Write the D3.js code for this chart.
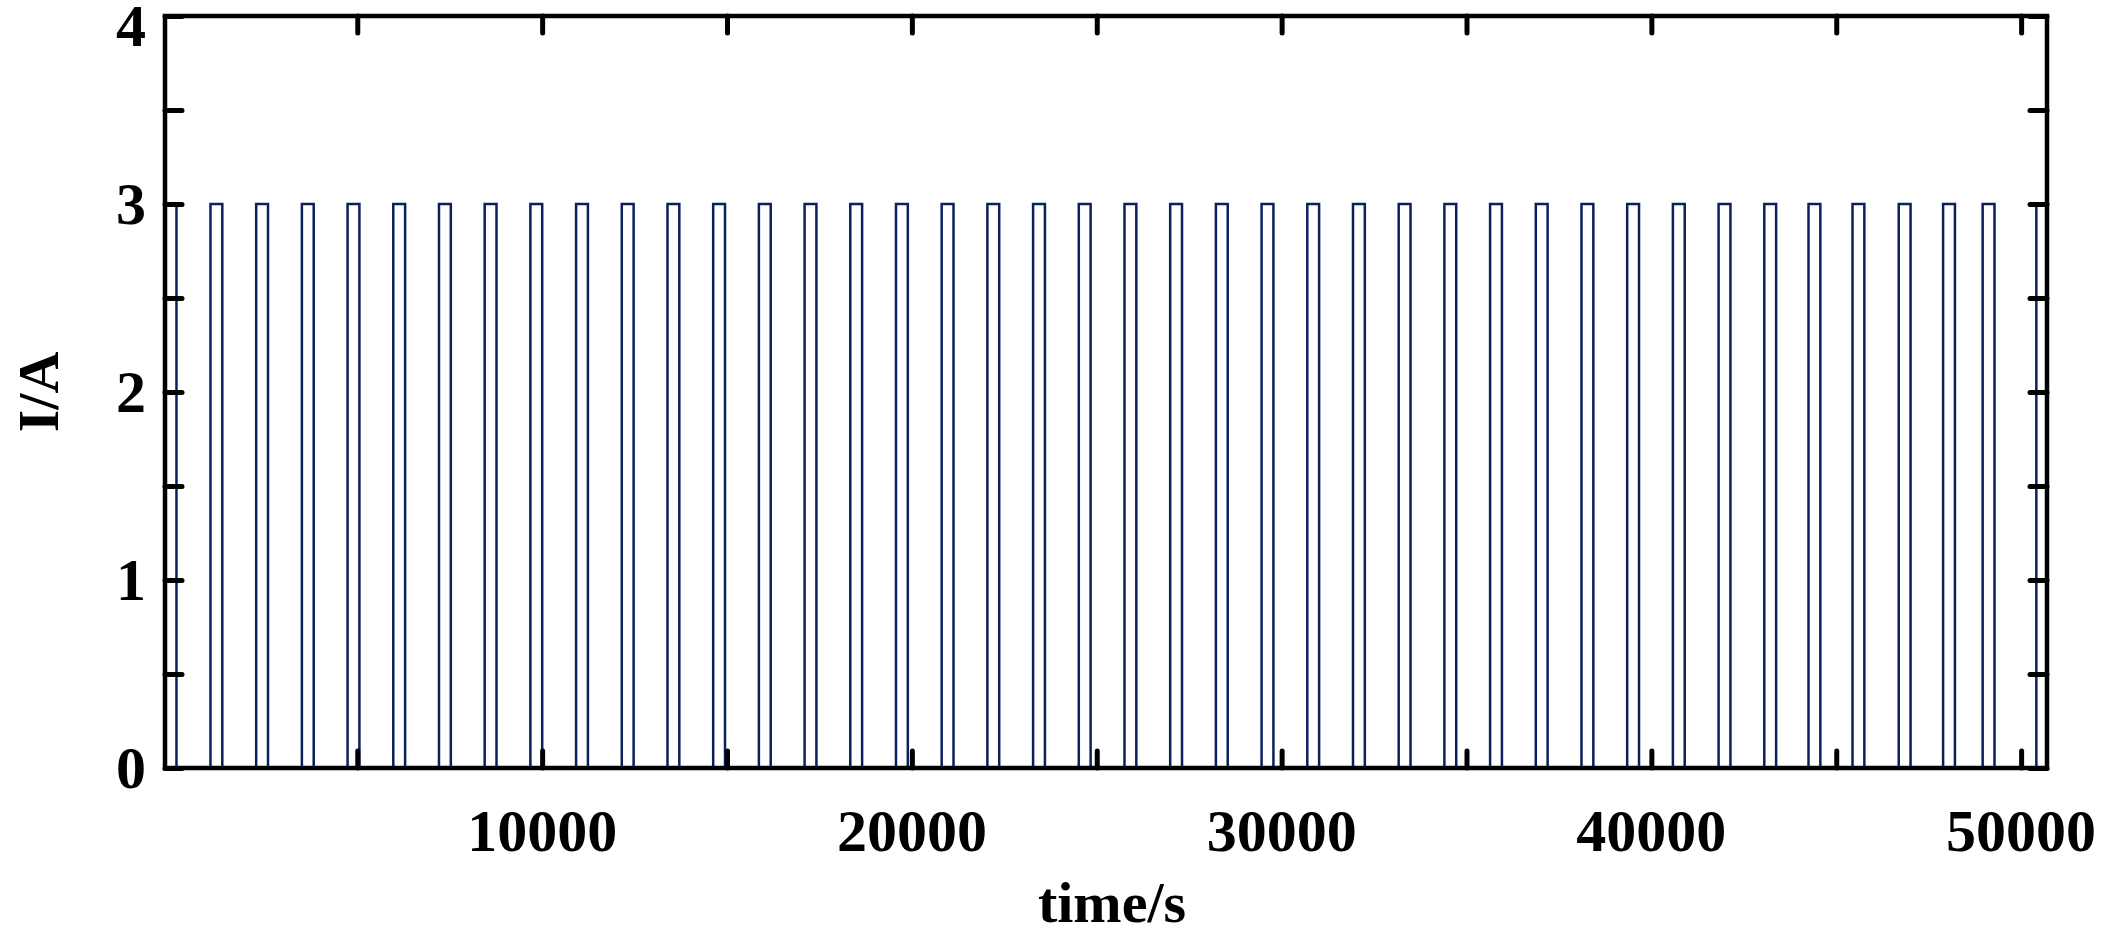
<!DOCTYPE html>
<html><head><meta charset="utf-8">
<script src="https://cdn.jsdelivr.net/npm/d3@7"></script>
<style>body{margin:0;background:#fff}text{font-family:"Liberation Serif",serif;font-weight:bold}</style>
</head><body>
<svg id="canvas" width="2106" height="941"></svg>
<script>
(function () {
    // pulse rising edges (s), each pulse lasts pulseWidth at pulseLevel A
    var riseTimes = [-210, 1030, 2266, 3502, 4738, 5974, 7210, 8446, 9682, 10918, 12154, 13390,
        14626, 15862, 17098, 18334, 19570, 20806, 22042, 23278, 24514, 25750, 26986,
        28222, 29458, 30694, 31930, 33166, 34402, 35638, 36874, 38110, 39346, 40582,
        41818, 43054, 44250, 45440, 46690, 47890, 48960, 50412];
    var pulseWidth = 320, pulseLevel = 3;
    var xTicks = [10000, 20000, 30000, 40000, 50000];
    var yTicks = [0, 1, 2, 3, 4];

    var left = 165, right = 2047, top = 16, bottom = 768;
    var xMin = -200, xMax = 50700;

    var svg = d3.select("#canvas");
    var x = d3.scaleLinear().domain([xMin, xMax]).range([left, right]);
    var y = d3.scaleLinear().domain([0, 4]).range([bottom, top]);

    // build step points
    var pts = [];
    riseTimes.forEach(function (t, i) {
        var t0 = Math.max(t, xMin), t1 = Math.min(t + pulseWidth, xMax);
        if (i === 0) pts.push([t0, pulseLevel]); else { pts.push([t0, 0]); pts.push([t0, pulseLevel]); }
        if (t + pulseWidth < xMax) { pts.push([t1, pulseLevel]); pts.push([t1, 0]); }
        else pts.push([xMax, pulseLevel]);
    });

    svg.append("path")
        .attr("d", d3.line().x(function (d) { return x(d[0]); }).y(function (d) { return y(d[1]); })(pts))
        .attr("fill", "none").attr("stroke", "#0a215e").attr("stroke-width", 2.5);

    var tl = 17;
    var yMinor = d3.range(0, 4.01, 0.5);
    var xMinor = d3.range(5000, 50001, 5000);
    // ticks on all four sides, pointing inward
    svg.append("g").attr("transform", "translate(" + left + ",0)")
        .call(d3.axisLeft(y).tickValues(yMinor).tickSize(-tl).tickFormat(""))
        .call(function (g) { g.select(".domain").remove(); });
    svg.append("g").attr("transform", "translate(" + right + ",0)")
        .call(d3.axisRight(y).tickValues(yMinor).tickSize(-tl).tickFormat(""))
        .call(function (g) { g.select(".domain").remove(); });
    svg.append("g").attr("transform", "translate(0," + bottom + ")")
        .call(d3.axisBottom(x).tickValues(xMinor).tickSize(-tl).tickFormat(""))
        .call(function (g) { g.select(".domain").remove(); });
    svg.append("g").attr("transform", "translate(0," + top + ")")
        .call(d3.axisTop(x).tickValues(xMinor).tickSize(-tl).tickFormat(""))
        .call(function (g) { g.select(".domain").remove(); });
    svg.selectAll(".tick line").attr("stroke", "#000").attr("stroke-width", 5).attr("stroke-linecap", "round");

    svg.append("rect").attr("x", left).attr("y", top).attr("width", right - left).attr("height", bottom - top)
        .attr("fill", "none").attr("stroke", "#000").attr("stroke-width", 4.5);

    svg.selectAll(".xl").data(xTicks).join("text")
        .attr("x", function (d) { return x(d); }).attr("y", 851)
        .attr("text-anchor", "middle").attr("font-size", 60).text(function (d) { return d; });
    svg.selectAll(".yl").data(yTicks).join("text")
        .attr("x", 146).attr("y", function (d) { return Math.max(y(d) + 20, 46); })
        .attr("text-anchor", "end").attr("font-size", 60).text(function (d) { return d; });

    svg.append("text").attr("x", 1112).attr("y", 922).attr("text-anchor", "middle")
        .attr("font-size", 58).text("time/s");
    svg.append("text").attr("transform", "translate(58,392) rotate(-90)").attr("text-anchor", "middle")
        .attr("font-size", 58).text("I/A");
})();
</script>
</body></html>
